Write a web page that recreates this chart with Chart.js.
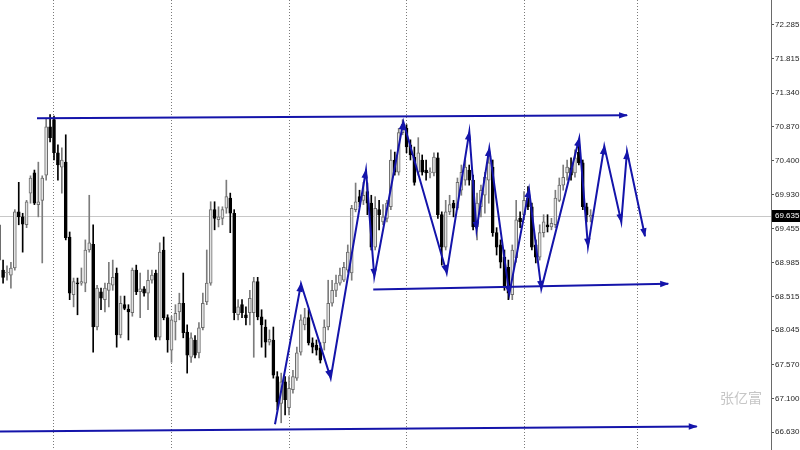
<!DOCTYPE html>
<html>
<head>
<meta charset="utf-8">
<script src="https://cdn.jsdelivr.net/npm/chart.js@4.4.1/dist/chart.umd.min.js"></script>
<style>
  html, body { margin: 0; padding: 0; background: #fff; }
  #wrap { width: 800px; height: 450px; }
</style>
</head>
<body>
<div id="wrap"><canvas id="chart" width="800" height="450"></canvas></div>
<script>
// candle values (one per bar, left to right)
const opens = [
  69.02, 68.88, 68.84, 68.81, 68.91, 69.69, 69.62, 69.51, 69.95, 70.23,
  69.79, 69.85, 70.20, 70.87, 70.97, 70.51, 70.31, 70.38, 69.34, 68.54,
  68.70, 68.70, 68.70, 69.16, 69.24, 68.09, 68.58, 68.47, 68.60, 68.67,
  68.84, 67.98, 68.40, 68.34, 68.29, 68.88, 68.58, 68.62, 68.56, 68.74,
  68.84, 67.95, 69.16, 68.22, 67.77, 68.16, 68.30, 68.42, 68.02, 67.67,
  67.91, 67.73, 68.08, 68.44, 68.70, 69.72, 69.58, 69.60, 69.74, 69.88,
  69.67, 68.26, 68.40, 68.26, 68.29, 68.29, 68.72, 68.23, 68.09, 67.88,
  67.91, 67.40, 67.03, 67.33, 66.97, 67.22, 67.38, 67.74, 68.12, 68.22,
  67.87, 67.84, 67.80, 67.87, 68.09, 68.42, 68.60, 68.70, 68.74, 68.88,
  68.84, 69.72, 69.90, 69.85, 69.97, 69.81, 69.20, 69.72, 69.55, 69.60,
  69.76, 70.41, 70.24, 70.79, 70.85, 70.62, 70.45, 70.24, 70.41, 70.27,
  70.23, 70.23, 70.44, 69.65, 69.20, 69.69, 69.81, 69.74, 69.99, 70.13,
  70.27, 70.13, 69.48, 69.76, 69.92, 70.13, 70.31, 69.40, 69.23, 69.06,
  68.92, 68.54, 69.05, 69.60, 69.65, 69.88, 69.76, 69.23, 69.06, 69.40,
  69.51, 69.48, 69.51, 69.85, 70.06, 70.23, 70.30, 70.23, 70.52, 70.37,
  69.76, 69.62
];
const highs = [
  69.69, 69.02, 68.94, 68.99, 69.72, 70.10, 69.67, 69.85, 70.19, 70.27,
  70.38, 70.19, 70.99, 71.04, 71.02, 70.62, 70.58, 70.76, 69.41, 68.77,
  68.77, 68.91, 69.30, 69.92, 69.51, 68.67, 68.63, 68.70, 68.99, 69.02,
  68.91, 68.52, 68.52, 68.40, 68.91, 68.95, 68.84, 68.65, 68.88, 68.88,
  68.88, 69.26, 69.34, 68.26, 68.24, 68.40, 68.56, 68.84, 68.12, 68.01,
  67.97, 68.15, 68.56, 69.16, 69.83, 69.83, 69.76, 69.76, 70.13, 69.95,
  69.72, 68.47, 68.47, 68.37, 68.60, 68.78, 68.78, 68.33, 68.19, 68.05,
  68.09, 67.47, 67.45, 67.40, 67.40, 67.49, 67.81, 68.26, 68.35, 68.33,
  67.94, 67.91, 67.87, 68.19, 68.74, 68.74, 68.81, 68.91, 68.99, 69.23,
  69.78, 70.09, 69.99, 70.10, 70.09, 69.92, 69.90, 69.85, 69.79, 69.85,
  70.55, 70.52, 70.85, 70.97, 70.90, 70.69, 70.59, 70.72, 70.48, 70.41,
  70.30, 70.51, 70.51, 69.69, 69.85, 69.92, 69.85, 70.16, 70.34, 70.41,
  70.34, 70.20, 69.95, 70.06, 70.24, 70.55, 70.41, 69.47, 69.30, 69.16,
  69.02, 69.23, 69.85, 69.69, 69.97, 70.04, 69.81, 69.30, 69.51, 69.65,
  69.65, 69.60, 69.99, 70.16, 70.34, 70.41, 70.44, 70.55, 70.69, 70.41,
  69.81, 69.72
];
const lows = [
  68.91, 68.70, 68.74, 68.63, 68.88, 69.51, 69.13, 69.47, 69.81, 69.79,
  69.62, 68.98, 70.13, 70.66, 70.41, 70.13, 69.95, 69.30, 68.47, 68.37,
  68.26, 68.67, 68.58, 69.13, 67.74, 68.05, 68.33, 68.30, 68.37, 68.60,
  67.81, 67.94, 68.33, 67.91, 68.24, 68.54, 68.22, 68.52, 68.33, 68.70,
  67.91, 67.91, 68.19, 67.74, 67.60, 67.91, 68.19, 67.94, 67.45, 67.60,
  67.66, 67.66, 68.05, 68.40, 68.67, 69.44, 69.48, 69.51, 69.67, 69.40,
  68.19, 68.19, 68.22, 68.12, 68.12, 67.67, 68.19, 67.81, 67.67, 67.84,
  67.38, 66.94, 66.76, 66.87, 66.87, 67.17, 67.35, 67.70, 68.05, 67.84,
  67.73, 67.70, 67.59, 67.77, 68.05, 68.38, 68.51, 68.67, 68.72, 68.85,
  68.74, 69.69, 69.76, 69.79, 69.65, 69.16, 69.16, 69.44, 69.51, 69.55,
  69.72, 70.20, 70.20, 70.76, 70.51, 70.41, 70.06, 70.20, 70.20, 70.13,
  70.16, 70.19, 69.60, 68.95, 69.16, 69.65, 69.62, 69.72, 69.92, 70.06,
  70.06, 69.44, 69.30, 69.62, 69.67, 69.81, 69.35, 69.09, 68.91, 68.60,
  68.47, 68.47, 68.99, 69.47, 69.58, 69.72, 69.16, 68.98, 69.02, 69.34,
  69.41, 69.44, 69.47, 69.83, 69.99, 70.13, 70.13, 70.17, 70.34, 69.72,
  69.55, 69.55
];
const closes = [
  69.51, 68.78, 68.85, 68.91, 69.69, 69.62, 69.52, 69.83, 70.16, 69.81,
  69.83, 70.16, 70.87, 70.72, 70.51, 70.34, 70.41, 69.33, 68.56, 68.72,
  68.69, 68.72, 69.16, 69.26, 68.09, 68.63, 68.49, 68.63, 68.70, 68.78,
  67.98, 68.42, 68.35, 68.30, 68.88, 68.58, 68.62, 68.56, 68.74, 68.81,
  67.95, 69.13, 68.22, 67.91, 68.19, 68.28, 68.42, 68.01, 67.70, 67.94,
  67.70, 68.08, 68.42, 68.70, 69.72, 69.60, 69.62, 69.72, 69.90, 69.67,
  68.29, 68.37, 68.29, 68.22, 68.49, 68.72, 68.23, 68.12, 67.88, 67.92,
  67.42, 67.05, 67.33, 67.08, 67.24, 67.40, 67.73, 68.19, 68.22, 67.87,
  67.81, 67.77, 67.63, 68.09, 68.42, 68.60, 68.70, 68.81, 68.92, 69.13,
  69.74, 69.83, 69.83, 69.92, 69.81, 69.20, 69.74, 69.65, 69.62, 69.81,
  70.41, 70.24, 70.79, 70.91, 70.59, 70.48, 70.10, 70.51, 70.24, 70.23,
  70.24, 70.45, 69.65, 69.20, 69.69, 69.79, 69.74, 70.10, 70.24, 70.31,
  70.13, 69.48, 69.81, 69.99, 70.17, 70.37, 69.40, 69.20, 68.99, 68.65,
  68.56, 69.16, 69.58, 69.55, 69.85, 69.76, 69.20, 69.06, 69.40, 69.55,
  69.48, 69.53, 69.88, 70.06, 70.17, 70.31, 70.20, 70.44, 70.37, 69.76,
  69.65, 69.64
];

// hand-drawn trend lines (x in bar index, y in price)
const topLineX = [9.66, 160.3];
const topLineY = [70.99, 71.03];
const midLineX = [95.5, 170.8];
const midLineY = [68.61, 68.69];
const lowLineX = [-1, 178.1];
const lowLineY = [66.64, 66.71];
const zigX = [70.42, 77.06, 84.64, 93.65, 95.77, 103.18, 114.26, 120.03, 121.87, 125.13,
              130.24, 135.27, 138.41, 148.09, 150.33, 154.49, 158.83, 160.29, 164.88];
const zigY = [66.74, 68.69, 67.38, 70.27, 68.79, 70.94, 68.84, 70.80, 69.44, 70.57,
              68.55, 70.00, 68.62, 70.71, 69.21, 70.60, 69.55, 70.53, 69.35];

const priceTicks = [72.285, 71.815, 71.340, 70.870, 70.400, 69.930, 69.455,
                    68.985, 68.515, 68.045, 67.570, 67.100, 66.630];
const separators = [14, 44, 74, 104, 134, 163];
const lastPrice = 69.635;

const blue = '#1414aa';
const isBull = i => closes[i] >= opens[i];
const pts = (xs, ys) => xs.map((x, i) => ({ x: x, y: ys[i] }));

function lineSet(xs, ys) {
  return { type: 'line', data: pts(xs, ys), borderColor: blue, borderWidth: 2,
           pointRadius: 0, tension: 0, order: 0 };
}

const wickData = opens.map((_, i) => ({ x: i, y: [lows[i], highs[i]] }));
const bodyData = opens.map((_, i) => ({ x: i, y: [opens[i], closes[i]] }));

const decor = {
  id: 'decor',
  beforeDatasetsDraw(chart) {
    const { ctx, chartArea: a, scales: { y } } = chart;
    const py = Math.round(y.getPixelForValue(lastPrice)) + 0.5;
    ctx.save();
    ctx.strokeStyle = '#c8c8c8';
    ctx.lineWidth = 1;
    ctx.beginPath();
    ctx.moveTo(a.left, py);
    ctx.lineTo(a.right, py);
    ctx.stroke();
    ctx.font = '14px "Noto Sans CJK SC"';
    ctx.fillStyle = '#c6c6c6';
    ctx.textBaseline = 'middle';
    ctx.fillText('张亿富', 720, 398);
    ctx.restore();
  },
  afterDraw(chart) {
    const { ctx, chartArea: a, scales: { y } } = chart;
    const py = Math.round(y.getPixelForValue(lastPrice));
    ctx.save();
    ctx.fillStyle = '#000';
    ctx.fillRect(a.right + 1, py - 6, 29, 12);
    ctx.fillStyle = '#fff';
    ctx.font = '8px "Liberation Sans"';
    ctx.textBaseline = 'middle';
    ctx.fillText(lastPrice.toFixed(3), a.right + 4, py);
    ctx.restore();
  }
};

// arrow head at the end of every drawn segment
const arrows = {
  id: 'arrows',
  afterDatasetsDraw(chart) {
    const { ctx, chartArea: a } = chart;
    ctx.save();
    ctx.beginPath();
    ctx.rect(a.left, a.top, a.right - a.left, a.bottom - a.top);
    ctx.clip();
    chart.data.datasets.forEach((ds, di) => {
      if (ds.type !== 'line') return;
      const p = chart.getDatasetMeta(di).data;
      ctx.fillStyle = ds.borderColor;
      for (let j = 1; j < p.length; j++) {
        const ang = Math.atan2(p[j].y - p[j - 1].y, p[j].x - p[j - 1].x);
        const c = Math.cos(ang), s = Math.sin(ang), len = 8, half = 3.2;
        ctx.beginPath();
        ctx.moveTo(p[j].x + c, p[j].y + s);
        ctx.lineTo(p[j].x - len * c + half * s, p[j].y - len * s - half * c);
        ctx.lineTo(p[j].x - len * c - half * s, p[j].y - len * s + half * c);
        ctx.closePath();
        ctx.fill();
      }
    });
    ctx.restore();
  }
};

new Chart(document.getElementById('chart'), {
  type: 'bar',
  data: {
    datasets: [
      lineSet(topLineX, topLineY),
      lineSet(midLineX, midLineY),
      lineSet(lowLineX, lowLineY),
      lineSet(zigX, zigY),
      {
        type: 'bar', data: bodyData, grouped: false, barThickness: 3, minBarLength: 1,
        backgroundColor: c => isBull(c.dataIndex) ? '#e2e2e2' : '#000000',
        borderColor: c => isBull(c.dataIndex) ? '#6c6c6c' : '#000000',
        borderWidth: 1, borderSkipped: false, order: 1
      },
      {
        type: 'bar', data: wickData, grouped: false, barThickness: 1,
        backgroundColor: c => isBull(c.dataIndex) ? '#7c7c7c' : '#000000',
        borderWidth: 0, order: 2
      }
    ]
  },
  options: {
    responsive: false,
    animation: false,
    devicePixelRatio: 1,
    layout: { padding: 0 },
    plugins: { legend: { display: false }, tooltip: { enabled: false } },
    scales: {
      x: {
        type: 'linear', min: 0.214, max: 197.05, offset: false,
        ticks: { display: false },
        grid: { color: '#7a7a7a', drawTicks: false, lineWidth: 1, offset: false },
        border: { display: false, dash: [1, 2] },
        afterBuildTicks: s => { s.ticks = separators.map(v => ({ value: v })); }
      },
      y: {
        position: 'right', min: 66.382, max: 72.632,
        grid: { drawOnChartArea: false, tickLength: 3, color: '#555' },
        border: { color: '#6a6a6a' },
        ticks: {
          color: '#1e1e1e', padding: 1,
          font: { family: 'Liberation Sans', size: 8 },
          callback: v => v.toFixed(3)
        },
        afterBuildTicks: s => { s.ticks = priceTicks.map(v => ({ value: v })); },
        afterFit: s => { s.width = 29; s.paddingTop = 0; s.paddingBottom = 0; }
      }
    }
  },
  plugins: [decor, arrows]
});
</script>
</body>
</html>
